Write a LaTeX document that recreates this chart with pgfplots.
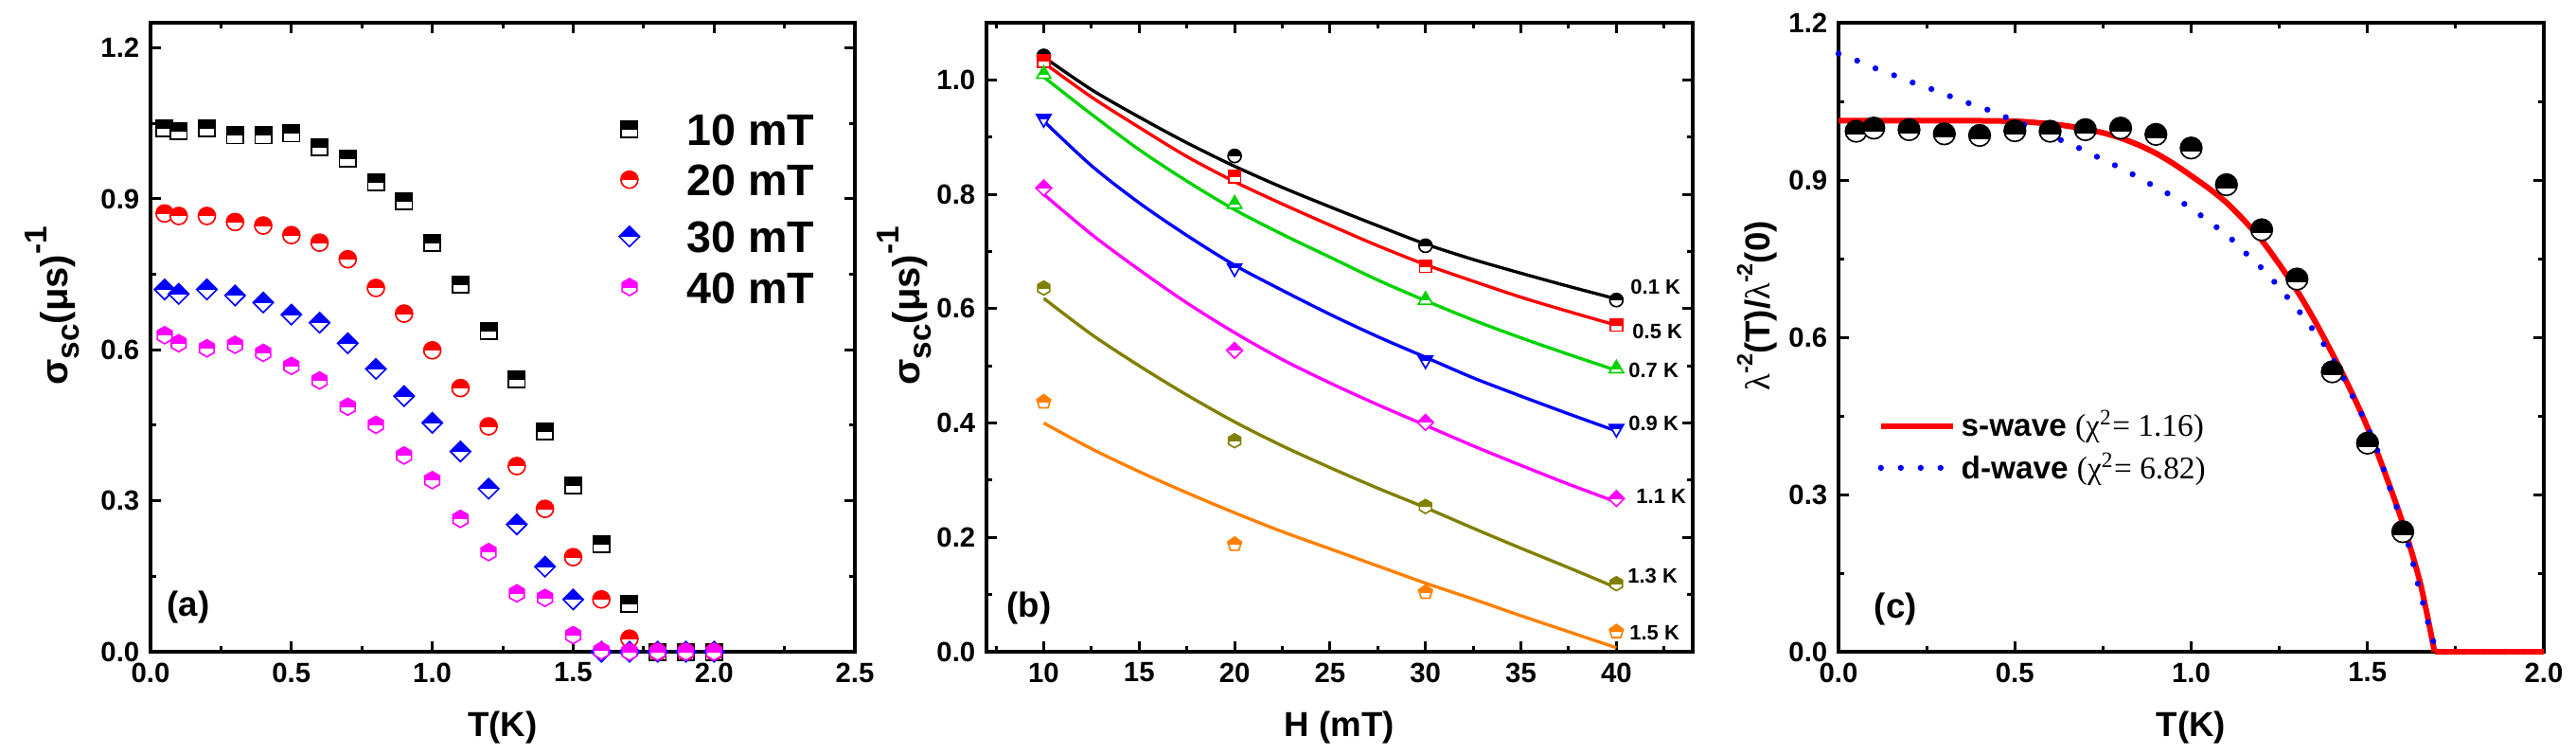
\documentclass[border=0pt]{standalone}
\usepackage{fontspec}
\setmainfont{Liberation Sans}
\newfontfamily\timesf{Liberation Serif}
\usepackage{pgfplots}
\pgfplotsset{compat=1.18}
\definecolor{mgreen}{RGB}{0,210,0}
\definecolor{molive}{RGB}{128,128,0}
\definecolor{morange}{RGB}{255,128,0}
\definecolor{mmag}{RGB}{255,0,255}

% half-filled marker helper: #1 cut (fraction of size), #2 path
\newcommand\halfmk[2]{%
  \begin{pgfscope}\pgfsetfillcolor{white}#2\pgfusepath{fill}\end{pgfscope}%
  \begin{pgfscope}\pgfpathrectangle{\pgfpoint{-2\pgfplotmarksize}{#1\pgfplotmarksize}}{\pgfpoint{4\pgfplotmarksize}{4\pgfplotmarksize}}\pgfusepath{clip}#2\pgfusepath{fill}\end{pgfscope}%
  #2\pgfusepath{stroke}}
\def\pthsq{\pgfpathrectangle{\pgfpoint{-\pgfplotmarksize}{-\pgfplotmarksize}}{\pgfpoint{2\pgfplotmarksize}{2\pgfplotmarksize}}}
\def\pthcirc{\pgfpathcircle{\pgfpointorigin}{\pgfplotmarksize}}
\def\pthdia{\pgfpathmoveto{\pgfpoint{0pt}{\pgfplotmarksize}}\pgfpathlineto{\pgfpoint{\pgfplotmarksize}{0pt}}\pgfpathlineto{\pgfpoint{0pt}{-\pgfplotmarksize}}\pgfpathlineto{\pgfpoint{-\pgfplotmarksize}{0pt}}\pgfpathclose}
\def\pthhex{\pgfpathmoveto{\pgfpointpolar{90}{\pgfplotmarksize}}\pgfpathlineto{\pgfpointpolar{30}{\pgfplotmarksize}}\pgfpathlineto{\pgfpointpolar{-30}{\pgfplotmarksize}}\pgfpathlineto{\pgfpointpolar{-90}{\pgfplotmarksize}}\pgfpathlineto{\pgfpointpolar{-150}{\pgfplotmarksize}}\pgfpathlineto{\pgfpointpolar{150}{\pgfplotmarksize}}\pgfpathclose}
\def\pthtri{\pgfpathmoveto{\pgfpointpolar{90}{\pgfplotmarksize}}\pgfpathlineto{\pgfpointpolar{210}{\pgfplotmarksize}}\pgfpathlineto{\pgfpointpolar{330}{\pgfplotmarksize}}\pgfpathclose}
\def\pthdtri{\pgfpathmoveto{\pgfpointpolar{-90}{\pgfplotmarksize}}\pgfpathlineto{\pgfpointpolar{30}{\pgfplotmarksize}}\pgfpathlineto{\pgfpointpolar{150}{\pgfplotmarksize}}\pgfpathclose}
\def\pthpent{\pgfpathmoveto{\pgfpointpolar{90}{\pgfplotmarksize}}\pgfpathlineto{\pgfpointpolar{18}{\pgfplotmarksize}}\pgfpathlineto{\pgfpointpolar{-54}{\pgfplotmarksize}}\pgfpathlineto{\pgfpointpolar{-126}{\pgfplotmarksize}}\pgfpathlineto{\pgfpointpolar{162}{\pgfplotmarksize}}\pgfpathclose}
\pgfdeclareplotmark{hsq}{\halfmk{0}{\pthsq}}
\pgfdeclareplotmark{hcirc}{\halfmk{0}{\pthcirc}}
\pgfdeclareplotmark{hcircc}{\halfmk{-0.3}{\pthcirc}}
\pgfdeclareplotmark{hdia}{\halfmk{0}{\pthdia}}
\pgfdeclareplotmark{hhex}{\halfmk{0}{\pthhex}}
\pgfdeclareplotmark{htri}{\halfmk{0}{\pthtri}}
\pgfdeclareplotmark{hdtri}{\halfmk{0}{\pthdtri}}
\pgfdeclareplotmark{hpent}{\halfmk{0}{\pthpent}}

\newcommand\lgf{\fontsize{14}{14}\selectfont\bfseries\hspace*{11.8pt}}

\pgfplotsset{
  myax/.style={
    scale only axis, height=199.2pt, anchor=south west, clip=false,
    axis line style={line width=1.1pt},
    tick align=inside, major tick length=3.2pt, minor tick length=1.8pt,
    major tick style={line width=0.9pt, black}, minor tick style={line width=0.9pt, black},
    tick label style={font=\fontsize{8.8}{10}\selectfont\bfseries},
    /pgf/number format/assume math mode=true,
    xticklabel style={/pgf/number format/.cd, fixed, fixed zerofill, precision=1},
    yticklabel style={/pgf/number format/.cd, fixed, fixed zerofill, precision=1},
    every axis x label/.style={at={(axis description cs:0.5,-0.121)}, anchor=center, font=\fontsize{11}{11}\selectfont\bfseries},
    every axis y label/.style={at={(axis description cs:-0.14,0.55)}, rotate=90, anchor=center},
  },
  mk/.style 2 args={only marks, mark=#1, mark options={draw=#2, fill=#2, line width=0.5pt, solid}},
}

\begin{document}
\begin{tikzpicture}
\useasboundingbox (0,0) rectangle (816.3pt,238.8pt);

% ---------------- (a)
\begin{axis}[myax, at={(47.7pt,32.4pt)}, width=223.2pt,
  xmin=0, xmax=2.5, ymin=0, ymax=1.25,
  xtick={0,0.5,1,1.5,2,2.5}, minor xtick={0.25,0.75,1.25,1.75,2.25},
  ytick={0,0.3,0.6,0.9,1.2}, minor ytick={0.15,0.45,0.75,1.05},
  xlabel={T(K)},
  ylabel={\fontsize{12}{12}\selectfont\bfseries σ\raisebox{-0.3em}{\fontsize{10}{10}\selectfont sc}(μs)\raisebox{0.55em}{\fontsize{10}{10}\selectfont -1}},
  legend style={at={(axis cs:1.626,1.105)}, anchor=north west, draw=none, fill=none,
    row sep=0.1pt, inner sep=0pt,
    nodes={inner sep=0pt, text height=10.2pt, text depth=0pt}},
  legend cell align=left,
  legend image code/.code={\path[#1] plot coordinates {(0pt,0pt)};},
]
\addplot[mk={hsq}{black}, mark size=2.6pt] coordinates {(0.05,1.040)(0.1,1.035)(0.2,1.040)(0.3,1.026)(0.4,1.026)(0.5,1.030)(0.6,1.003)(0.7,0.980)(0.8,0.933)(0.9,0.896)(1.0,0.813)(1.1,0.730)(1.2,0.637)(1.3,0.541)(1.4,0.438)(1.5,0.331)(1.6,0.214)(1.7,0.095)(1.8,0)(1.9,0)(2.0,0)};
\addlegendentry{\lgf 10 mT}
\addplot[mk={hcirc}{red}, mark size=2.7pt] coordinates {(0.05,0.871)(0.1,0.866)(0.2,0.866)(0.3,0.854)(0.4,0.847)(0.5,0.828)(0.6,0.813)(0.7,0.780)(0.8,0.723)(0.9,0.672)(1.0,0.599)(1.1,0.524)(1.2,0.448)(1.3,0.369)(1.4,0.284)(1.5,0.188)(1.6,0.104)(1.7,0.026)(1.8,0)(1.9,0)(2.0,0)};
\addlegendentry{\lgf 20 mT}
\addplot[mk={hdia}{blue}, mark size=3.2pt] coordinates {(0.05,0.720)(0.1,0.711)(0.2,0.720)(0.3,0.708)(0.4,0.694)(0.5,0.670)(0.6,0.654)(0.7,0.613)(0.8,0.562)(0.9,0.508)(1.0,0.455)(1.1,0.398)(1.2,0.324)(1.3,0.253)(1.4,0.169)(1.5,0.104)(1.6,0)(1.7,0)(1.8,0)(1.9,0)(2.0,0)};
\addlegendentry{\lgf 30 mT}
\addplot[mk={hhex}{mmag}, mark size=2.7pt] coordinates {(0.05,0.629)(0.1,0.613)(0.2,0.603)(0.3,0.610)(0.4,0.594)(0.5,0.568)(0.6,0.539)(0.7,0.487)(0.8,0.451)(0.9,0.390)(1.0,0.341)(1.1,0.264)(1.2,0.198)(1.3,0.116)(1.4,0.107)(1.5,0.033)(1.6,0.002)(1.7,0)(1.8,0)(1.9,0)(2.0,0)};
\addlegendentry{\lgf 40 mT}
\node[font=\fontsize{11}{11}\selectfont\bfseries] at (axis cs:0.135,0.088) {(a)};
\end{axis}

% ---------------- (b)
\begin{axis}[myax, at={(312.6pt,32.4pt)}, width=223.8pt,
  xmin=7, xmax=44, ymin=0, ymax=1.1,
  xtick={10,15,20,25,30,35,40}, minor xtick={7.5,12.5,17.5,22.5,27.5,32.5,37.5,42.5},
  ytick={0,0.2,0.4,0.6,0.8,1.0}, minor ytick={0.1,0.3,0.5,0.7,0.9},
  xticklabel style={/pgf/number format/.cd, fixed, fixed zerofill=false, precision=0},
  xlabel={H (mT)},
  every axis y label/.style={at={(axis description cs:-0.1166,0.55)}, rotate=90, anchor=center},
  ylabel={\fontsize{12}{12}\selectfont\bfseries σ\raisebox{-0.3em}{\fontsize{10}{10}\selectfont sc}(μs)\raisebox{0.55em}{\fontsize{10}{10}\selectfont -1}},
]
\addplot[black, line width=1pt, smooth] coordinates {(10,1.04)(12.5,0.983)(15,0.935)(17.5,0.89)(20,0.849)(22.5,0.812)(25,0.778)(27.5,0.745)(30,0.713)(32.5,0.686)(35,0.662)(37.5,0.639)(40,0.617)};
\addplot[red, line width=1pt, smooth] coordinates {(10,1.03)(12.5,0.97)(15,0.917)(17.5,0.866)(20,0.822)(22.5,0.783)(25,0.746)(27.5,0.71)(30,0.677)(32.5,0.648)(35,0.62)(37.5,0.595)(40,0.571)};
\addplot[mgreen, line width=1pt, smooth] coordinates {(10,1.005)(12.5,0.94)(15,0.878)(17.5,0.823)(20,0.773)(22.5,0.73)(25,0.69)(27.5,0.65)(30,0.614)(32.5,0.58)(35,0.549)(37.5,0.52)(40,0.492)};
\addplot[blue, line width=1pt, smooth] coordinates {(10,0.928)(12.5,0.85)(15,0.785)(17.5,0.728)(20,0.676)(22.5,0.632)(25,0.59)(27.5,0.551)(30,0.515)(32.5,0.479)(35,0.447)(37.5,0.416)(40,0.386)};
\addplot[mmag, line width=1pt, smooth] coordinates {(10,0.80)(12.5,0.73)(15,0.668)(17.5,0.61)(20,0.558)(22.5,0.511)(25,0.47)(27.5,0.432)(30,0.396)(32.5,0.36)(35,0.326)(37.5,0.293)(40,0.262)};
\addplot[molive, line width=1pt, smooth] coordinates {(10,0.618)(12.5,0.555)(15,0.5)(17.5,0.449)(20,0.402)(22.5,0.36)(25,0.322)(27.5,0.286)(30,0.252)(32.5,0.216)(35,0.181)(37.5,0.147)(40,0.112)};
\addplot[morange, line width=1pt, smooth] coordinates {(10,0.40)(12.5,0.355)(15,0.315)(17.5,0.278)(20,0.243)(22.5,0.21)(25,0.18)(27.5,0.15)(30,0.12)(32.5,0.092)(35,0.063)(37.5,0.035)(40,0.007)};
\addplot[mk={hcirc}{black}, mark size=2.1pt] coordinates {(10,1.042)(20,0.867)(30,0.710)(40,0.615)};
\addplot[mk={hsq}{red}, mark size=1.9pt] coordinates {(10,1.033)(20,0.831)(30,0.674)(40,0.571)};
\addplot[mk={htri}{mgreen}, mark size=2.6pt] coordinates {(10,1.010)(20,0.783)(30,0.615)(40,0.495)};
\addplot[mk={hdtri}{blue}, mark size=2.6pt] coordinates {(10,0.932)(20,0.671)(30,0.510)(40,0.390)};
\addplot[mk={hdia}{mmag}, mark size=2.5pt] coordinates {(10,0.811)(20,0.527)(30,0.401)(40,0.268)};
\addplot[mk={hhex}{molive}, mark size=2.2pt] coordinates {(10,0.636)(20,0.369)(30,0.254)(40,0.119)};
\addplot[mk={hpent}{morange}, mark size=2.3pt] coordinates {(10,0.437)(20,0.188)(30,0.104)(40,0.035)};
\begin{scope}[font=\fontsize{6.6}{7}\selectfont\bfseries]
\node at (axis cs:42.05,0.638) {0.1 K};
\node at (axis cs:42.15,0.560) {0.5 K};
\node at (axis cs:41.95,0.492) {0.7 K};
\node at (axis cs:41.95,0.400) {0.9 K};
\node at (axis cs:42.35,0.272) {1.1 K};
\node at (axis cs:41.9,0.133) {1.3 K};
\node at (axis cs:42.0,0.033) {1.5 K};
\end{scope}
\node[font=\fontsize{11}{11}\selectfont\bfseries] at (axis cs:9.23,0.077) {(b)};
\end{axis}

% ---------------- (c)
\begin{axis}[myax, at={(582.6pt,32.4pt)}, width=223.5pt,
  xmin=0, xmax=2, ymin=0, ymax=1.2,
  xtick={0,0.5,1,1.5,2}, minor xtick={0.25,0.75,1.25,1.75},
  ytick={0,0.3,0.6,0.9,1.2}, minor ytick={0.15,0.45,0.75,1.05},
  xlabel={T(K)},
  every axis y label/.style={at={(axis description cs:-0.1154,0.55)}, rotate=90, anchor=center},
  ylabel={\fontsize{11}{11}\selectfont\bfseries{\timesf\mdseries λ}\raisebox{0.5em}{\fontsize{7}{7}\selectfont -2}(T)/{\timesf\mdseries λ}\raisebox{0.5em}{\fontsize{7}{7}\selectfont -2}(0)},
  legend style={at={(axis description cs:0.055,0.392)}, anchor=north west, draw=none, fill=none,
    font=\fontsize{10}{10}\selectfont\bfseries, row sep=0.5pt, inner sep=0pt,
    nodes={inner sep=1.5pt}},
  legend cell align=left,
  legend image code/.code={\draw[#1] (0pt,0pt) -- (23pt,0pt);},
]
\addplot[mk={hcircc}{black}, mark size=3.4pt, forget plot] coordinates {(0.05,0.993)(0.1,0.999)(0.2,0.996)(0.3,0.988)(0.4,0.985)(0.5,0.994)(0.6,0.993)(0.7,0.996)(0.8,0.999)(0.9,0.987)(1.0,0.961)(1.1,0.891)(1.2,0.805)(1.3,0.711)(1.4,0.534)(1.5,0.398)(1.6,0.229)};
\addplot[red, line width=1.8pt, smooth] coordinates {(0,1.013)(0.1,1.013)(0.2,1.013)(0.3,1.013)(0.4,1.013)(0.5,1.012)(0.55,1.01)(0.6,1.007)(0.65,1.003)(0.7,0.997)(0.75,0.99)(0.8,0.98)(0.85,0.967)(0.9,0.951)(0.95,0.931)(1.0,0.908)(1.05,0.884)(1.1,0.857)(1.15,0.823)(1.2,0.785)(1.25,0.739)(1.3,0.689)(1.35,0.632)(1.4,0.569)(1.45,0.502)(1.5,0.428)(1.55,0.34)(1.6,0.245)(1.65,0.13)(1.69,0.0)};
\addlegendentry{s-wave {\timesf\mdseries (χ\textsuperscript{2}= 1.16)}}
\addplot[blue, line width=1.9pt, line cap=round, dash pattern=on 0pt off 6.3pt] coordinates {(0,1.141)(0.063,1.125)(0.115,1.11)(0.165,1.098)(0.217,1.084)(0.27,1.072)(0.323,1.058)(0.375,1.045)(0.427,1.033)(0.477,1.019)(0.529,1.005)(0.583,0.99)(0.631,0.976)(0.682,0.961)(0.734,0.944)(0.784,0.928)(0.831,0.912)(0.879,0.894)(0.929,0.876)(0.975,0.857)(1.024,0.834)(1.068,0.812)(1.112,0.789)(1.154,0.761)(1.194,0.736)(1.233,0.708)(1.272,0.677)(1.309,0.647)(1.345,0.615)(1.378,0.585)(1.406,0.554)(1.433,0.521)(1.458,0.487)(1.482,0.455)(1.504,0.423)(1.526,0.388)(1.543,0.354)(1.561,0.317)(1.58,0.281)(1.598,0.244)(1.613,0.212)(1.627,0.176)(1.639,0.139)(1.654,0.102)(1.666,0.069)(1.682,0.032)(1.694,0.0)(2.0,0.0)};
\addlegendentry{d-wave {\timesf\mdseries (χ\textsuperscript{2}= 6.82)}}
\addplot[red, line width=1.8pt, forget plot] coordinates {(1.69,0)(2.0,0)};
\node[font=\fontsize{11}{11}\selectfont\bfseries] at (axis cs:0.162,0.081) {(c)};
\end{axis}
\end{tikzpicture}
\end{document}
